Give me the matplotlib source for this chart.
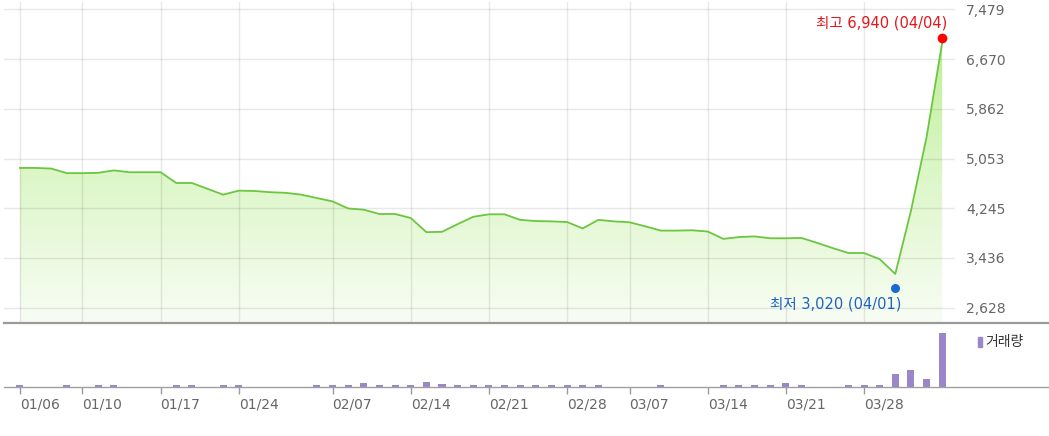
import numpy as np
import matplotlib
matplotlib.use('Agg')
import matplotlib.pyplot as plt
import matplotlib.transforms as mtransforms
from matplotlib.lines import Line2D
from matplotlib.patches import Rectangle
from matplotlib.colors import LinearSegmentedColormap

# daily close (one value per trading day, index 0 = 01/06)
prices = [4900, 4900, 4890, 4815, 4815, 4820, 4860, 4830, 4830, 4830,
          4655, 4655, 4560, 4465, 4530, 4525, 4505, 4495, 4465, 4410,
          4355, 4240, 4220, 4150, 4150, 4085, 3855, 3860, 3985, 4105,
          4145, 4145, 4055, 4035, 4030, 4020, 3915, 4055, 4030, 4015,
          3950, 3880, 3880, 3885, 3865, 3745, 3775, 3785, 3755, 3755,
          3760, 3680, 3595, 3515, 3515, 3415, 3175, 4200, 5400, 6940]

# volume (shares)
volumes = [2000, 0, 0, 2000, 0, 2000, 2000, 0, 0, 0,
           2000, 2000, 0, 2000, 2000, 0, 0, 0, 0, 2000,
           2000, 2000, 3500, 2000, 2000, 2000, 4500, 3000, 2000, 2000,
           2000, 2000, 2000, 2000, 2000, 2000, 2000, 2000, 0, 0,
           0, 2000, 0, 0, 0, 2000, 2000, 2000, 2000, 3500,
           2000, 0, 0, 2000, 2000, 2000, 12500, 16500, 7500, 54000]

tick_idx = [0, 4, 9, 14, 20, 25, 30, 35, 39, 44, 49, 54]
tick_labels = ['01/06', '01/10', '01/17', '01/24', '02/07', '02/14',
               '02/21', '02/28', '03/07', '03/14', '03/21', '03/28']
y_ticks = [2628, 3436, 4245, 5053, 5862, 6670, 7479]

high_idx, high_val, high_date = 59, 6940, '04/04'
low_idx, low_val, low_date = 56, 3020, '04/01'

plt.rcParams['font.family'] = ['DejaVu Sans', 'Noto Sans CJK KR']

W, H = 1049, 436
fig = plt.figure(figsize=(W / 100, H / 100), dpi=100)


def rect(l, r, t, b):
    # axes box from pixel edges
    return [l / W, 1 - b / H, (r - l) / W, (b - t) / H]


ax = fig.add_axes(rect(4, 955, 2, 322.5))
axv = fig.add_axes(rect(4, 955, 324, 386.7))

x = np.arange(len(prices))
xlim = (-1.02, 59.82)
ylim = (2384, 7601)

# price panel
poly = ax.fill_between(x, prices, ylim[0], facecolor='none', edgecolor='none')
cmap = LinearSegmentedColormap.from_list('fillg', ['#f8fdf4', '#daf6c4', '#b6eb88'])
grad = np.linspace(0, 1, 256).reshape(-1, 1)
im = ax.imshow(grad, extent=[xlim[0], xlim[1], ylim[0], ylim[1]], origin='lower',
               aspect='auto', cmap=cmap, zorder=0.3)
im.set_clip_path(poly.get_paths()[0], transform=ax.transData)
ax.plot(x, prices, color='#6cc640', lw=1.3, zorder=2)

off_up = mtransforms.ScaledTranslation(0, 3 / 72, fig.dpi_scale_trans)
off_dn = mtransforms.ScaledTranslation(0, -3 / 72, fig.dpi_scale_trans)
ax.plot(high_idx, high_val, 'o', color='#ff0000', ms=7, mec='none',
        transform=ax.transData + off_up, clip_on=False, zorder=5)
ax.plot(low_idx, low_val, 'o', color='#1a6ad4', ms=6.5, mec='none',
        transform=ax.transData + off_dn, clip_on=False, zorder=5)
ax.annotate(f'최고 {high_val:,} ({high_date})', xy=(high_idx, high_val),
            xytext=(3.6, 14.3), textcoords='offset points', ha='right', va='center',
            color='#e3171c', fontsize=10.5)
ax.annotate(f'최저 {low_val:,} ({low_date})', xy=(low_idx, low_val),
            xytext=(4.3, -14.8), textcoords='offset points', ha='right', va='center',
            color='#1f62c0', fontsize=10.5)

ax.set_xlim(xlim)
ax.set_ylim(ylim)
ax.set_yticks(y_ticks)
ax.set_yticklabels([f'{v:,}' for v in y_ticks])
ax.set_xticks(tick_idx)
ax.yaxis.tick_right()
ax.tick_params(axis='y', length=0, pad=8, labelsize=10, labelcolor='#666666')
ax.tick_params(axis='x', length=0, labelbottom=False)
ax.set_axisbelow(True)
ax.grid(True, color='#000000', alpha=0.09, lw=1)
for s in ax.spines.values():
    s.set_visible(False)

# volume panel
axv.bar(x, volumes, width=0.45, color='#9a86c8', zorder=2)
axv.set_xlim(xlim)
axv.set_ylim(0, max(volumes) * 63 / 54.3)
axv.set_yticks([])
axv.set_xticks(tick_idx)
axv.set_xticklabels(tick_labels)
for lab in axv.get_xticklabels():
    lab.set_ha('left')
axv.tick_params(axis='x', length=5, width=1, color='#9a9a9a', pad=3,
                labelsize=10, labelcolor='#666666')
for s in axv.spines.values():
    s.set_visible(False)

# baselines run to the right edge
fig.add_artist(Line2D([4 / W, 1], [1 - 322.5 / H] * 2, transform=fig.transFigure,
                      color='#9a9a9a', lw=1.6))
fig.add_artist(Line2D([4 / W, 1], [1 - 386.7 / H] * 2, transform=fig.transFigure,
                      color='#a0a0a0', lw=1.0))

# volume legend
fig.add_artist(Rectangle((978 / W, 1 - 347 / H), 4 / W, 10 / H, transform=fig.transFigure,
                         color='#9a86c8'))
fig.text(985 / W, 1 - 342 / H, '거래량', ha='left', va='center', fontsize=10, color='#333333')

fig.savefig('out.png', dpi=100)
